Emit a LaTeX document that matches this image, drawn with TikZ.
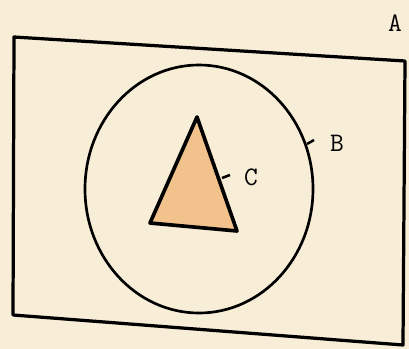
\documentclass[tikz,border=0pt]{standalone}
\usepackage{xcolor}
\usepackage{tikz}
\usetikzlibrary{positioning}
\definecolor{paper}{HTML}{F8EDD6}
\definecolor{tri}{HTML}{F1C28C}

\begin{document}
\begin{tikzpicture}[
    x=0.025cm, y=-0.025cm,
    every node/.style={font=\ttfamily\fontsize{19}{21}\selectfont, inner sep=0pt},
    edge/.style={line width=2.3pt, line join=round},
    tick/.style={line width=1.8pt}
]
\useasboundingbox (0,0) rectangle (409,349);
\fill[paper] (0,0) rectangle (409,349);

% universal set A
\coordinate (tl) at (14,37);
\coordinate (tr) at (405,61);
\coordinate (br) at (403,345);
\coordinate (bl) at (13,315);
\draw[edge] (tl) -- (tr) -- (br) -- (bl) -- cycle;
\node (lblA) at (395,23) {A};

% set B
\coordinate (cB) at (199,189);
\draw[line width=1.9pt] (cB) ellipse [x radius=114, y radius=124];
\coordinate (tB) at (307,144);
\node (lblB) at (337,143) {B};
\draw[tick] (tB) -- ++(7,-4);

% set C
\coordinate (p1) at (197,117);
\coordinate (p2) at (150,223);
\coordinate (p3) at (237,231);
\draw[edge, fill=tri, line width=2.6pt] (p1) -- (p3) -- (p2) -- cycle;
\coordinate (tC) at (222,178);
\node (lblC) at (251,177) {C};
\draw[tick] (tC) -- ++(8,-3);
\end{tikzpicture}
\end{document}
